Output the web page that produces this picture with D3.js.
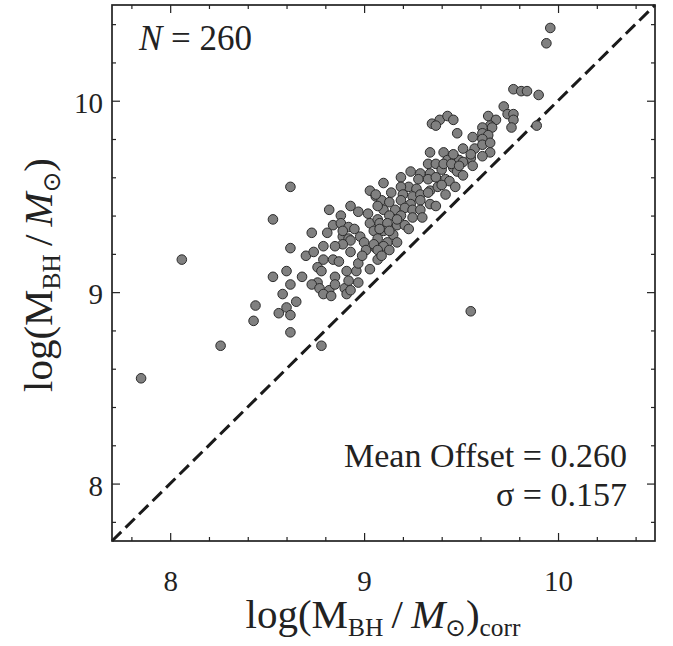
<!DOCTYPE html>
<html>
<head>
<meta charset="utf-8">
<script src="https://cdn.jsdelivr.net/npm/d3@7"></script>
<style>
  html, body { margin: 0; padding: 0; background: #fff; }
  svg { display: block; font-family: "Liberation Serif", "DejaVu Serif", serif; }
</style>
</head>
<body>
<svg id="chart"></svg>
<script>
// log(M_BH/Msun)_corr  (x) and log(M_BH/Msun) (y)
let massCorr = [
  7.85, 8.06, 8.26, 8.44, 8.43, 8.53, 8.62, 8.62, 8.53, 8.60,
  8.62, 8.58, 8.56, 8.60, 8.62, 8.65, 8.62, 8.78, 8.68, 8.73,
  8.70, 8.74, 8.79, 8.82, 8.81, 8.84, 8.88, 8.93, 8.88, 8.92,
  8.95, 8.97, 8.89, 8.92, 8.93, 8.89, 8.93, 8.79, 8.84, 8.87,
  8.76, 8.78, 8.76, 8.73, 8.77, 8.82, 8.79, 8.83, 8.85, 8.85,
  8.91, 8.90, 8.91, 8.93, 8.96, 8.97, 8.97, 8.89, 9.03, 9.06,
  8.98, 9.00, 9.01, 8.99, 9.03, 9.07, 9.06, 9.03, 9.07, 9.02,
  8.92, 8.85,
  9.35, 9.39, 9.43, 9.46, 9.48, 9.56, 9.34, 9.41, 9.51, 9.57,
  9.33, 9.37, 9.43, 9.47, 9.49, 9.55, 9.56, 9.34, 9.40, 9.46,
  9.48, 9.51, 9.24, 9.29, 9.19, 9.10, 9.28, 9.33, 9.37, 9.42,
  9.44, 9.47, 9.23, 9.27, 9.34, 9.38, 9.19, 9.14, 9.20, 9.25,
  9.29, 9.33, 9.42, 9.09, 9.13, 9.19, 9.24, 9.29, 9.34, 9.37,
  9.21, 9.16, 9.10, 9.07, 9.25, 9.29, 9.25, 9.30, 9.19, 9.13,
  9.08, 9.12, 9.17, 9.21, 9.23, 9.05, 9.10, 9.15, 9.07, 9.12,
  9.17, 9.05, 9.10, 9.13, 9.07, 9.09,
  9.96, 9.94, 9.77, 9.81, 9.84, 9.90, 9.72, 9.74, 9.77, 9.77,
  9.76, 9.89, 9.64, 9.68, 9.65, 9.66, 9.61, 9.61, 9.64, 9.37,
  9.61, 9.61, 9.65, 9.65, 9.61, 9.46, 9.55, 9.51, 9.41, 9.45,
  9.49, 9.55,
  9.40, 9.06, 9.17, 9.13, 9.08
]
let massBH = [
  8.55, 9.17, 8.72, 8.93, 8.85, 9.38, 9.55, 9.23, 9.08, 9.11,
  9.04, 8.99, 8.89, 8.92, 8.88, 8.95, 8.79, 8.72, 9.08, 9.31,
  9.19, 9.21, 9.24, 9.43, 9.31, 9.35, 9.40, 9.45, 9.36, 9.34,
  9.33, 9.42, 9.29, 9.28, 9.27, 9.25, 9.21, 9.17, 9.17, 9.16,
  9.13, 9.11, 9.05, 9.04, 9.02, 9.01, 8.99, 8.98, 9.08, 9.04,
  9.11, 9.02, 8.99, 9.01, 9.11, 9.05, 9.15, 9.32, 9.53, 9.50,
  9.29, 9.26, 9.22, 9.19, 9.12, 9.17, 9.23, 9.36, 9.38, 9.41,
  9.06, 9.24,
  9.88, 9.90, 9.92, 9.90, 9.83, 9.81, 9.73, 9.73, 9.75, 9.75,
  9.67, 9.67, 9.69, 9.70, 9.69, 9.70, 9.66, 9.62, 9.64, 9.65,
  9.63, 9.61, 9.63, 9.62, 9.60, 9.57, 9.59, 9.59, 9.60, 9.59,
  9.58, 9.55, 9.55, 9.54, 9.53, 9.55, 9.55, 9.52, 9.51, 9.50,
  9.51, 9.52, 9.51, 9.48, 9.47, 9.48, 9.46, 9.48, 9.46, 9.45,
  9.44, 9.43, 9.43, 9.45, 9.43, 9.43, 9.39, 9.39, 9.40, 9.40,
  9.36, 9.36, 9.35, 9.35, 9.33, 9.32, 9.32, 9.30, 9.28, 9.26,
  9.26, 9.25, 9.24, 9.22, 9.22, 9.19,
  10.38, 10.30, 10.06, 10.05, 10.05, 10.03, 9.97, 9.93, 9.93, 9.90,
  9.86, 9.87, 9.92, 9.90, 9.87, 9.86, 9.86, 9.83, 9.82, 9.87,
  9.80, 9.77, 9.78, 9.73, 9.71, 9.72, 9.72, 9.68, 9.67, 9.67,
  9.66, 8.90,
  9.56, 9.51, 9.38, 9.32, 9.33
]
let majorTicks = [8, 9, 10]
let minorTicks = [7.8, 8.2, 8.4, 8.6, 8.8, 9.2, 9.4, 9.6, 9.8, 10.2, 10.4]
let domain = [7.7, 10.5]
let nLabel = "260"
let meanOffset = "0.260"
let sigma = "0.157"

let w = 673
let h = 646
let pLeft = 112, pRight = 655, pTop = 5, pBottom = 541

let svg = d3.select("#chart").attr("width", w).attr("height", h)

let xScale = d3.scaleLinear().domain(domain).range([pLeft, pRight])
let yScale = d3.scaleLinear().domain(domain).range([pBottom, pTop])

let data = massCorr.map((d, i) => ({ x: d, y: massBH[i] }))

// ticks on all four sides, pointing inward
let addAxis = (axis, tr, vals, size, labels) => {
  let g = svg.append("g")
     .attr("transform", tr)
     .call(axis.tickValues(vals).tickSize(-size)
              .tickFormat(labels ? d3.format("d") : ""))
  g.select(".domain").remove()
  g.selectAll("line").attr("stroke", "#222").attr("stroke-width", 1.2)
  return g
}

let xb = addAxis(d3.axisBottom(xScale), `translate(0,${pBottom})`, majorTicks, 8, true)
xb.selectAll("text")
  .attr("y", 29).attr("dy", "0.71em")
  .attr("font-size", 29).attr("fill", "#222")
  .style("font-family", "Liberation Serif, serif")
addAxis(d3.axisBottom(xScale), `translate(0,${pBottom})`, minorTicks, 4, false)
addAxis(d3.axisTop(xScale), `translate(0,${pTop})`, majorTicks, 8, false)
addAxis(d3.axisTop(xScale), `translate(0,${pTop})`, minorTicks, 4, false)

let yl = addAxis(d3.axisLeft(yScale), `translate(${pLeft},0)`, majorTicks, 8, true)
yl.selectAll("text")
  .attr("x", -9).attr("dy", "0.4em")
  .attr("font-size", 29).attr("fill", "#222")
  .style("font-family", "Liberation Serif, serif")
addAxis(d3.axisLeft(yScale), `translate(${pLeft},0)`, minorTicks, 4, false)
addAxis(d3.axisRight(yScale), `translate(${pRight},0)`, majorTicks, 8, false)
addAxis(d3.axisRight(yScale), `translate(${pRight},0)`, minorTicks, 4, false)

// one-to-one line
svg.append("line")
   .attr("x1", xScale(domain[0])).attr("y1", yScale(domain[0]))
   .attr("x2", xScale(domain[1])).attr("y2", yScale(domain[1]))
   .attr("stroke", "#1a1a1a")
   .attr("stroke-width", 3)
   .attr("stroke-dasharray", "13,6")

svg.selectAll("circle")
   .data(data)
   .enter()
   .append("circle")
   .attr("cx", (d) => xScale(d.x))
   .attr("cy", (d) => yScale(d.y))
   .attr("r", 4.8)
   .attr("fill", "#808080")
   .attr("stroke", "#2b2b2b")
   .attr("stroke-width", 1)

// frame
svg.append("rect")
   .attr("x", pLeft).attr("y", pTop)
   .attr("width", pRight - pLeft).attr("height", pBottom - pTop)
   .attr("fill", "none")
   .attr("stroke", "#222")
   .attr("stroke-width", 1.7)

// annotations
let nText = svg.append("text")
   .attr("x", 139).attr("y", 50)
   .attr("font-size", 35).attr("fill", "#222")
nText.append("tspan").attr("font-style", "italic").text("N")
nText.append("tspan").text(" = " + nLabel)

svg.append("text")
   .attr("x", 627).attr("y", 467)
   .attr("text-anchor", "end")
   .attr("font-size", 34).attr("fill", "#222")
   .text("Mean Offset = " + meanOffset)

svg.append("text")
   .attr("x", 627).attr("y", 506)
   .attr("text-anchor", "end")
   .attr("font-size", 34).attr("fill", "#222")
   .text("σ = " + sigma)

// axis titles
let addTitle = (t, withCorr) => {
  t.append("tspan").text("log(M")
  t.append("tspan").attr("font-size", "0.62em").attr("dy", 8).text("BH")
  t.append("tspan").attr("dy", -8).text("\u2009/\u2009")
  t.append("tspan").attr("font-style", "italic").text("M")
  t.append("tspan").attr("font-size", "0.6em").attr("dy", 8)
   .style("font-family", "DejaVu Sans, sans-serif").text("\u2299")
  t.append("tspan").attr("dy", -8).text(")")
  if (withCorr) {
    t.append("tspan").attr("font-size", "0.62em").attr("dy", 8).text("corr")
  }
}

let xt = svg.append("text")
   .attr("x", 383).attr("y", 628)
   .attr("text-anchor", "middle")
   .attr("font-size", 41).attr("fill", "#222")
addTitle(xt, true)

let yt = svg.append("text")
   .attr("transform", "translate(52,275) rotate(-90)")
   .attr("text-anchor", "middle")
   .attr("font-size", 41).attr("fill", "#222")
addTitle(yt, false)
</script>
</body>
</html>
